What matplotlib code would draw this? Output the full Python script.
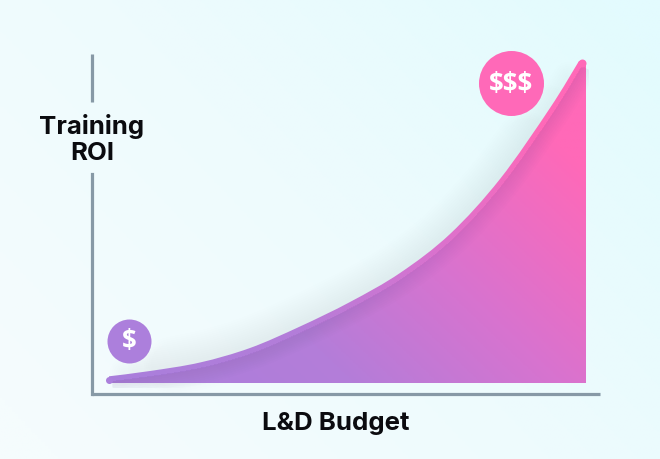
import numpy as np
import matplotlib
matplotlib.use("Agg")
import matplotlib.pyplot as plt
from matplotlib.colors import LinearSegmentedColormap
from matplotlib.patches import PathPatch
from matplotlib.path import Path
from matplotlib.transforms import Affine2D

W, H = 660, 460
# Values (budget and ROI on a 0-100 scale)
budget_px = [109, 150, 200, 250, 300, 350, 400, 450, 500, 550, 579]
roi_px = [377.3, 372, 363.5, 349, 327.5, 303, 274, 235, 180, 109, 62]
budget = [(p - 92) / 508 * 100 for p in budget_px]
roi = [(395 - p) / 340 * 100 for p in roi_px]
x_label = "L&D Budget"
y_label = "Training\nROI"
low_label, high_label = "$", "$$$"

plt.rcParams['font.family'] = ['Inter', 'DejaVu Sans']
plt.rcParams['text.parse_math'] = False
fig = plt.figure(figsize=(W / 100, H / 100), dpi=100)


def smooth_curve(xs, ys):
    """Smooth bezier path running through the points that were read."""
    pts = np.column_stack([xs, ys])
    verts, codes = [pts[0]], [Path.MOVETO]
    for i in range(len(pts) - 1):
        p0 = pts[max(i - 1, 0)]
        p1, p2 = pts[i], pts[i + 1]
        p3 = pts[min(i + 2, len(pts) - 1)]
        verts += [p1 + (p2 - p0) / 6, p2 - (p3 - p1) / 6, p2]
        codes += [Path.CURVE4] * 3
    return verts, codes


# background gradient
bg = fig.add_axes([0, 0, 1, 1], zorder=0)
bg.axis("off")
gx, gy = np.meshgrid(np.linspace(0, 1, 200), np.linspace(0, 1, 200))
bg_cmap = LinearSegmentedColormap.from_list("bg", ["#f5fcfd", "#eefbfd", "#e3fbfe"])
bg.imshow(gx * .6 + gy * .4, origin="lower", extent=(0, 1, 0, 1), aspect="auto", cmap=bg_cmap, vmin=.05, vmax=.95)

ax = fig.add_axes([92 / W, (H - 395) / H, 508 / W, 340 / H], zorder=1)
ax.set_xlim(0, 100)
ax.set_ylim(0, 100)
ax.patch.set_alpha(0)
ax.axis("off")

# curve region
xr = (586 - 92) / 508 * 100
yb = (395 - 384) / 340 * 100
ytop = (395 - 63) / 340 * 100
cv, cc = smooth_curve(budget, roi)
curve_path = Path(cv, cc)
area_path = Path(cv + [(xr, ytop), (xr, yb), (budget[0], yb), (budget[0], roi[0])],
                 cc + [Path.LINETO] * 4)

# soft outer shadow: wider strokes stop earlier, so the ends fade out
dense = np.array(curve_path.to_polygons(closed_only=False)[0])
for n, lw in enumerate(np.arange(3, 44, 3)):
    keep = max(1, int(len(dense) * .012 * n))
    seg = dense[keep:-keep]
    ax.add_patch(PathPatch(Path(seg), fc="none", ec="#2f5a66", alpha=.0055, lw=lw, capstyle="round",
                           transform=ax.transData + Affine2D().translate(-1, 2), clip_on=False, zorder=1))

# gradient fill
area = PathPatch(area_path, fc="none", ec="none", transform=ax.transData)
ax.add_patch(area)
px_x, px_y = np.meshgrid(np.linspace(92, 600, 300), np.linspace(395, 55, 300))
t = np.clip((px_x - 108) / 478 * .68 + (384 - px_y) / 214 * .32, 0, 1)
cmap = LinearSegmentedColormap.from_list("fill", [(0, "#a97fdc"), (.35, "#b47dd9"), (.65, "#d873cf"), (1, "#ff69b8")])
im = ax.imshow(t, origin="lower", extent=(0, 100, 0, 100), aspect="auto", cmap=cmap, vmin=0, vmax=1, zorder=2)
im.set_clip_path(area)

# inner shadow below the lighter top strip
shift = Affine2D().translate(3, -5)
inner = PathPatch(area_path, fc="none", ec="none", transform=ax.transData + shift)
ax.add_patch(inner)
for lw in np.arange(2, 26, 3):
    sh = PathPatch(curve_path, fc="none", ec="#6a4a90", alpha=.017, lw=lw, capstyle="butt",
                   transform=ax.transData + shift, zorder=3)
    ax.add_patch(sh)
    sh.set_clip_path(inner)

# rounded ends of the curve
ax.scatter([(109 - 92) / 508 * 100], [(395 - 380.6) / 340 * 100], s=(7 * .72) ** 2, color="#ab7fdc", lw=0, zorder=3.5)
ax.scatter([(582 - 92) / 508 * 100], [(395 - 63.5) / 340 * 100], s=(8 * .72) ** 2, color="#ff69b8", lw=0, zorder=3.5)

# axes lines
ax.plot([0, 0], [100, 85.9], color="#8799a6", lw=2.3, solid_capstyle="butt", clip_on=False, zorder=4)
ax.plot([0, 0], [64.6, 0], color="#8799a6", lw=2.3, solid_capstyle="projecting", clip_on=False, zorder=4)
ax.plot([0, 100], [0, 0], color="#8799a6", lw=2.3, solid_capstyle="butt", clip_on=False, zorder=4)

# labels
ax.text(0, 75.1, y_label, ha="center", va="center", fontsize=18.6, fontweight="bold",
        color="#0b0b0f", linespacing=1.15, zorder=5)
ax.text(47.9, -8.4, x_label, ha="center", va="center", fontsize=18.6, fontweight="bold",
        color="#0b0b0f", clip_on=False, zorder=5)

# badges
lx, ly = (129 - 92) / 508 * 100, (395 - 342) / 340 * 100
hx, hy = (511 - 92) / 508 * 100, (395 - 84) / 340 * 100
ax.scatter([lx], [ly], s=(44 * .72) ** 2, color="#ac7fdc", lw=0, zorder=5, clip_on=False)
ax.scatter([hx], [hy], s=(65 * .72) ** 2, color="#ff69b8", lw=0, zorder=5, clip_on=False)
for xx, yy, lab in [(lx, ly, low_label), (hx, hy, high_label)]:
    ax.text(xx, yy, lab, color="white", fontsize=18.5, fontweight="bold", family=["Open Sans", "DejaVu Sans"],
            ha="center", va="center", zorder=6)

fig.savefig("out.png", dpi=100)
